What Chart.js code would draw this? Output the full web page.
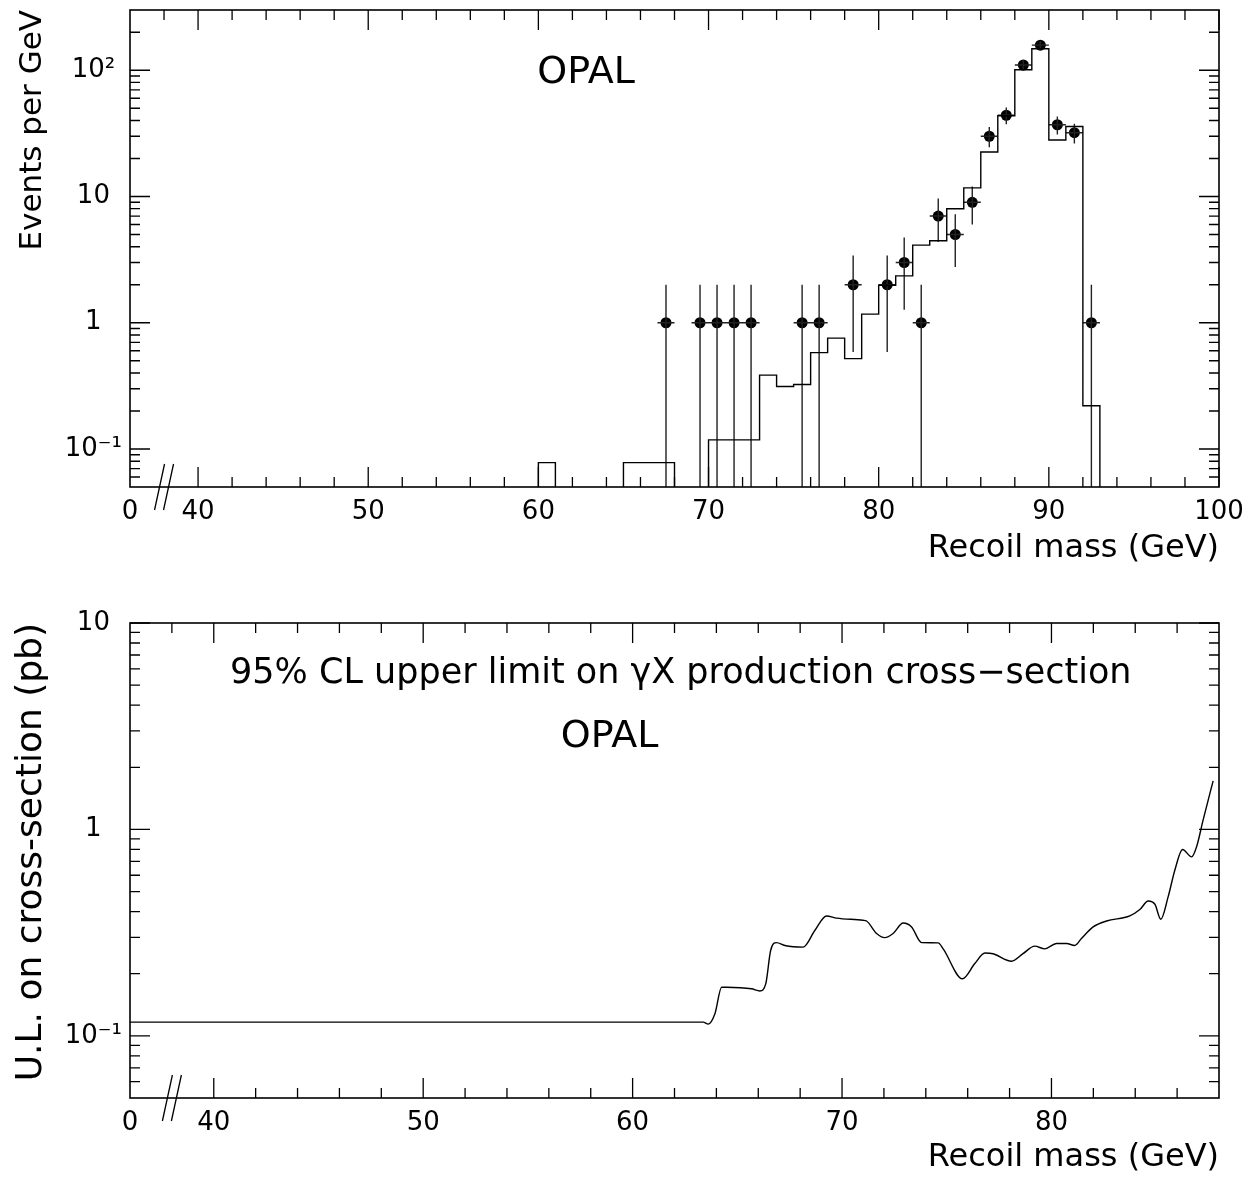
<!DOCTYPE html>
<html>
<head>
<meta charset="utf-8">
<script src="https://cdn.jsdelivr.net/npm/chart.js@4.4.0/dist/chart.umd.min.js"></script>
<style>
  body { margin: 0; background: #fff; }
  canvas { display: block; }
</style>
</head>
<body>
<canvas id="massChart" width="1254" height="590"></canvas>
<canvas id="limitChart" width="1254" height="589"></canvas>
<script>
// ---- top panel: recoil mass spectrum (events per GeV) ----
// MC expectation, 1 GeV bins (edges and content per bin, 0 = empty bin)
const massEdges = [36, 60, 61, 65, 68, 70, 73, 74, 75, 76, 77, 78, 79, 80, 81, 82, 83, 84, 85, 86, 87, 88, 89, 90, 91, 92, 93, 100];
const mcPerGeV = [0, 0.078, 0, 0.078, 0, 0.118, 0.385, 0.313, 0.324, 0.58, 0.756, 0.52, 1.17, 1.98, 2.35, 4.12, 4.46, 8.0, 11.7, 22.5, 43.6, 101, 148, 28, 35.8, 0.22, 0];

// observed events, bin centres
const dataMass = [67.5, 69.5, 70.5, 71.5, 72.5, 75.5, 76.5, 78.5, 80.5, 81.5, 82.5, 83.5, 84.5, 85.5, 86.5, 87.5, 88.5, 89.5, 90.5, 91.5, 92.5];
const dataEvents = [1, 1, 1, 1, 1, 1, 1, 2, 2, 3, 1, 7, 5, 9, 30, 44, 110, 158, 37, 32, 1];

// ---- bottom panel: 95% CL upper limit (pb) ----
const ulMass = [36, 63.37, 63.61, 63.93, 64.25, 64.49, 65.68, 66.08, 66.36, 66.59, 66.87, 67.27, 68.14, 68.70, 69.26, 69.74,
  71.0, 71.17, 71.65, 72.04, 72.44, 72.92, 73.32, 73.80, 74.59, 74.83, 75.75, 76.34, 76.82, 77.21, 78.09, 78.64, 79.20, 79.68,
  80.24, 80.72, 81.11, 81.43, 81.99, 82.63, 83.74, 84.22, 84.62, 84.94, 85.22, 85.57, 85.89, 86.26, 86.69, 86.93, 87.24, 87.72];
const ulLimit = [0.1165, 0.1165, 0.114, 0.128, 0.172, 0.172, 0.169, 0.165, 0.179, 0.259, 0.283, 0.274, 0.269, 0.324, 0.381, 0.372,
  0.363, 0.360, 0.313, 0.299, 0.313, 0.352, 0.337, 0.283, 0.282, 0.264, 0.189, 0.224, 0.252, 0.250, 0.230, 0.250, 0.272, 0.264,
  0.280, 0.280, 0.274, 0.296, 0.337, 0.360, 0.381, 0.409, 0.450, 0.434, 0.367, 0.471, 0.634, 0.800, 0.736, 0.824, 1.11, 1.72];

// axis ticks (the axis is broken: the left edge at 36 GeV is labelled 0)
const topMassTicks = [36, 40, 50, 60, 70, 80, 90, 100];
const topMassLabels = ['0', '40', '50', '60', '70', '80', '90', '100'];
const botMassTicks = [36, 40, 50, 60, 70, 80];
const botMassLabels = ['0', '40', '50', '60', '70', '80'];
const eventTicks = [0.1, 1, 10, 100];
const eventLabels = ['10\u207B\u00B9', '1', '10', '10\u00B2'];
const limitTicks = [0.1, 1, 10];
const limitLabels = ['10\u207B\u00B9', '1', '10'];

const FLOOR = 1e-3; // below the axis: empty bins and zero lower errors drop to the frame

Chart.defaults.font.family = '"DejaVu Sans", sans-serif';
Chart.defaults.color = '#000';

function stepMinors(lo, hi, step, majors) {
    const out = [];
    for (let v = lo; v <= hi + 1e-9; v += step) {
        if (!majors.includes(v)) out.push(v);
    }
    return out;
}

function logMinors(lo, hi) {
    const out = [];
    for (let d = 0.01; d < hi; d *= 10) {
        for (let k = 2; k <= 9; k++) {
            const v = +(k * d).toPrecision(3);
            if (v > lo && v < hi) out.push(v);
        }
    }
    return out;
}

// frame with inward ticks on all four sides, plus the // axis break
const framePlugin = {
    id: 'frame',
    afterDatasetsDraw(chart, args, o) {
        const { ctx, chartArea: a } = chart;
        const xs = chart.scales.x, ys = chart.scales.y;
        ctx.save();
        ctx.strokeStyle = '#000';
        ctx.lineWidth = 1.6;
        ctx.strokeRect(a.left, a.top, a.right - a.left, a.bottom - a.top);
        ctx.lineWidth = 1.3;
        ctx.beginPath();
        const xTick = (v, len, top) => {
            const px = xs.getPixelForValue(v);
            if (top) { ctx.moveTo(px, a.top); ctx.lineTo(px, a.top + len); }
            else { ctx.moveTo(px, a.bottom); ctx.lineTo(px, a.bottom - len); }
        };
        const yTick = (v, len) => {
            const py = ys.getPixelForValue(v);
            ctx.moveTo(a.left, py); ctx.lineTo(a.left + len, py);
            ctx.moveTo(a.right, py); ctx.lineTo(a.right - len, py);
        };
        o.xMajor.forEach(v => { xTick(v, 20, false); xTick(v, 20, true); });
        o.xMinor.forEach(v => { if (v !== o.breakAt) xTick(v, 10, false); xTick(v, 10, true); });
        o.yMajor.forEach(v => yTick(v, 20));
        o.yMinor.forEach(v => yTick(v, 10));
        // axis break marks
        const cx = xs.getPixelForValue(o.breakAt);
        [-4.5, 4.5].forEach(off => {
            ctx.moveTo(cx + off - 5, a.bottom + 23);
            ctx.lineTo(cx + off + 5, a.bottom - 23);
        });
        ctx.stroke();
        ctx.restore();
    }
};

const notesPlugin = {
    id: 'notes',
    afterDraw(chart, args, o) {
        const { ctx } = chart;
        ctx.save();
        ctx.fillStyle = '#000';
        ctx.textAlign = 'center';
        ctx.textBaseline = 'middle';
        o.items.forEach(n => {
            ctx.font = n.size + 'px "DejaVu Sans", sans-serif';
            ctx.fillText(n.text, chart.scales.x.getPixelForValue(n.x), chart.scales.y.getPixelForValue(n.y));
        });
        ctx.restore();
    }
};

function renderMassChart() {
    const histPoints = massEdges.map((e, i) => ({ x: e, y: (i < mcPerGeV.length && mcPerGeV[i] > 0) ? mcPerGeV[i] : FLOOR }));
    const vErr = [], hErr = [];
    dataMass.forEach((m, i) => {
        const n = dataEvents[i], s = Math.sqrt(n);
        vErr.push({ x: m, y: Math.max(n - s, FLOOR) }, { x: m, y: n + s }, { x: m, y: null });
        hErr.push({ x: m - 0.5, y: n }, { x: m + 0.5, y: n }, { x: m, y: null });
    });

    new Chart(document.getElementById('massChart'), {
        type: 'line',
        data: {
            datasets: [
                { label: 'Expected', data: histPoints, stepped: 'before', borderColor: '#000', borderWidth: 1.4, pointRadius: 0 },
                { label: 'Vertical errors', data: vErr, borderColor: '#222', borderWidth: 1.4, pointRadius: 0 },
                { label: 'Horizontal errors', data: hErr, borderColor: '#222', borderWidth: 1.4, pointRadius: 0 },
                { type: 'scatter', label: 'Data', data: dataMass.map((m, i) => ({ x: m, y: dataEvents[i] })),
                  pointRadius: 5.5, pointBackgroundColor: '#000', pointBorderWidth: 0 }
            ]
        },
        options: {
            responsive: false,
            animation: false,
            layout: { padding: { top: 10, right: 35, left: 0, bottom: 0 } },
            plugins: {
                legend: { display: false },
                tooltip: { enabled: false },
                frame: {
                    xMajor: topMassTicks.slice(1),
                    xMinor: stepMinors(38, 98, 2, topMassTicks),
                    yMajor: eventTicks,
                    yMinor: logMinors(0.05, 300),
                    breakAt: 38
                },
                notes: { items: [{ text: 'OPAL', x: 62.8, y: 95, size: 38 }] }
            },
            scales: {
                x: {
                    type: 'linear', min: 36, max: 100, bounds: 'data',
                    grid: { display: false, drawTicks: false },
                    border: { display: false },
                    afterBuildTicks: s => { s.ticks = topMassTicks.map(v => ({ value: v })); },
                    afterFit: s => { s.height = 103; s.paddingLeft = 0; s.paddingRight = 0; },
                    ticks: { autoSkip: false, maxRotation: 0, padding: 10, font: { size: 26 },
                             callback: (v, i) => topMassLabels[i] },
                    title: { display: true, text: 'Recoil mass (GeV)', align: 'end', font: { size: 32 },
                             padding: { top: 0, bottom: 22 } }
                },
                y: {
                    type: 'logarithmic', min: 0.05, max: 300, bounds: 'data',
                    grid: { display: false, drawTicks: false },
                    border: { display: false },
                    afterBuildTicks: s => { s.ticks = eventTicks.map(v => ({ value: v })); },
                    afterFit: s => { s.width = 130; s.paddingTop = 0; s.paddingBottom = 0; },
                    ticks: { autoSkip: false, crossAlign: 'center', padding: 8, font: { size: 26 },
                             callback: (v, i) => eventLabels[i] },
                    title: { display: true, text: 'Events per GeV', align: 'end', font: { size: 31 },
                             padding: { top: 14, bottom: 0 } }
                }
            }
        },
        plugins: [framePlugin, notesPlugin]
    });
}

function renderLimitChart() {
    new Chart(document.getElementById('limitChart'), {
        type: 'line',
        data: {
            datasets: [{
                label: '95% CL upper limit',
                data: ulMass.map((m, i) => ({ x: m, y: ulLimit[i] })),
                borderColor: '#000', borderWidth: 1.4, pointRadius: 0,
                cubicInterpolationMode: 'monotone'
            }]
        },
        options: {
            responsive: false,
            animation: false,
            layout: { padding: { top: 33, right: 35, left: 0, bottom: 0 } },
            plugins: {
                legend: { display: false },
                tooltip: { enabled: false },
                frame: {
                    xMajor: botMassTicks.slice(1),
                    xMinor: stepMinors(38, 86, 2, botMassTicks),
                    yMajor: limitTicks,
                    yMinor: logMinors(0.05, 10),
                    breakAt: 38
                },
                notes: { items: [
                    { text: '95% CL upper limit on \u03B3X production cross\u2212section', x: 62.3, y: 5.67, size: 35 },
                    { text: 'OPAL', x: 58.9, y: 2.81, size: 38 }
                ] }
            },
            scales: {
                x: {
                    type: 'linear', min: 36, max: 88, bounds: 'data',
                    grid: { display: false, drawTicks: false },
                    border: { display: false },
                    afterBuildTicks: s => { s.ticks = botMassTicks.map(v => ({ value: v })); },
                    afterFit: s => { s.height = 81; s.paddingLeft = 0; s.paddingRight = 0; },
                    ticks: { autoSkip: false, maxRotation: 0, padding: 10, font: { size: 26 },
                             callback: (v, i) => botMassLabels[i] },
                    title: { display: true, text: 'Recoil mass (GeV)', align: 'end', font: { size: 32 },
                             padding: { top: 0, bottom: 2 } }
                },
                y: {
                    type: 'logarithmic', min: 0.05, max: 10, bounds: 'data',
                    grid: { display: false, drawTicks: false },
                    border: { display: false },
                    afterBuildTicks: s => { s.ticks = limitTicks.map(v => ({ value: v })); },
                    afterFit: s => { s.width = 130; s.paddingTop = 0; s.paddingBottom = 0; },
                    ticks: { autoSkip: false, crossAlign: 'center', padding: 8, font: { size: 26 },
                             callback: (v, i) => limitLabels[i] },
                    title: { display: true, text: 'U.L. on cross-section (pb)', align: 'end', font: { size: 36 },
                             padding: { top: 10, bottom: 0 } }
                }
            }
        },
        plugins: [framePlugin, notesPlugin]
    });
}

renderMassChart();
renderLimitChart();
</script>
</body>
</html>
